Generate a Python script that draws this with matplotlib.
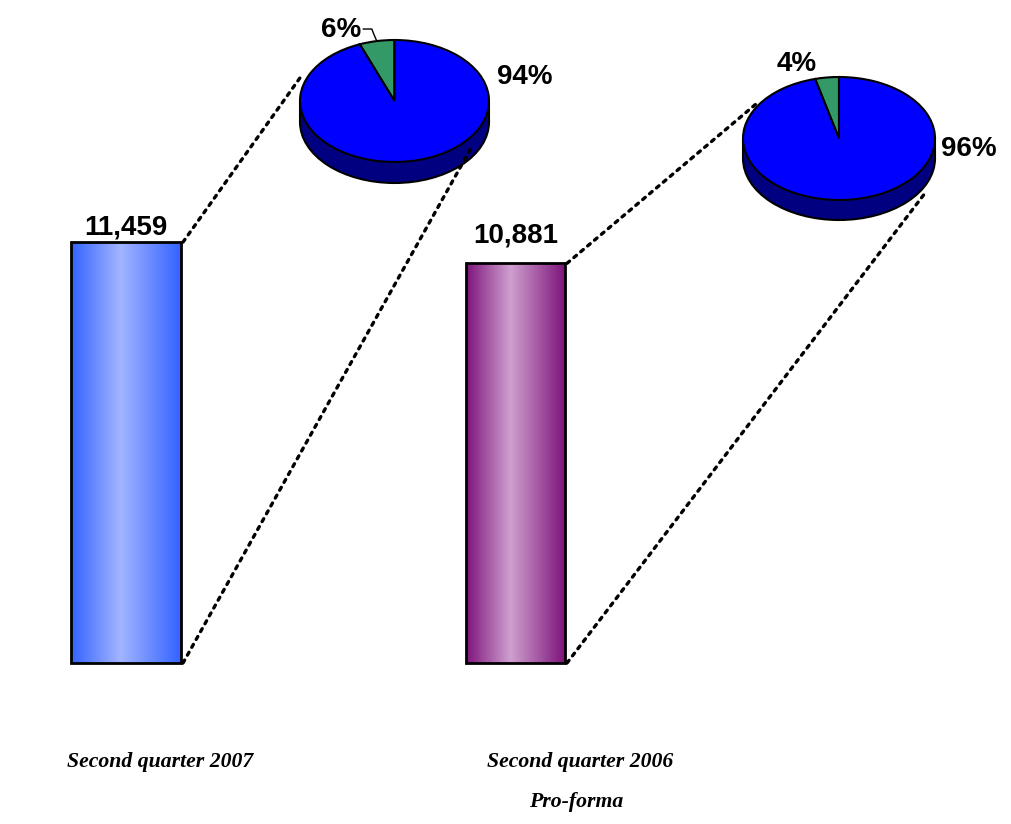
import numpy as np
import matplotlib
matplotlib.use("Agg")
import matplotlib.pyplot as plt
from matplotlib.colors import LinearSegmentedColormap
from matplotlib.patches import Ellipse, Rectangle, ConnectionPatch

# totals per period and the split shown in the pies
periods = ["Second quarter 2007", "Second quarter 2006\nPro-forma"]
totals = [11459, 10881]
total_labels = ["11,459", "10,881"]
pie_shares = [[6, 94], [4, 96]]
pie_labels = [["6%", "94%"], ["4%", "96%"]]

W, H = 1012, 824
fig = plt.figure(figsize=(W / 100, H / 100), dpi=100)
fig.patch.set_facecolor("white")

# bar axes: baseline sits 663 px from the top of the figure
ax = fig.add_axes([0, (H - 663) / H, 1, 663 / H])
ax.set_xlim(0, W)
ax.set_ylim(0, 18050)
ax.axis("off")

bar_x = [126, 515.5]
bar_w = [110, 99]
label_gap = [5.5, 15]  # points between bar top and value label baseline
grad_cols = [["#3363FF", "#A3B5FF", "#3363FF"],
             ["#7E147C", "#CFA0CF", "#7E147C"]]

bars = ax.bar(bar_x, totals, width=bar_w, color="none", edgecolor="black",
              linewidth=2, zorder=3, clip_on=False)
for b, cols, lab, gap in zip(bars, grad_cols, total_labels, label_gap):
    x0, w, h = b.get_x(), b.get_width(), b.get_height()
    cmap = LinearSegmentedColormap.from_list("g", [(0, cols[0]), (0.45, cols[1]), (1, cols[2])])
    grad = np.linspace(0, 1, 256).reshape(1, -1)
    im = ax.imshow(grad, cmap=cmap, aspect="auto", extent=[x0, x0 + w, 0, h],
                   zorder=2, interpolation="bicubic")
    im.set_clip_path(b)
    ax.annotate(lab, (x0 + w / 2, h), xytext=(0, gap), textcoords="offset points",
                ha="center", va="baseline", fontsize=20, fontweight="bold",
                family="Liberation Sans")

# pie geometry in pixels: centre x, centre y (from top), radii, side depth
pie_geo = [(394.5, 101, 94.5, 61, 21), (839, 138.5, 96, 61.5, 20)]
label_pos = [[(-0.56, 1.16), (1.38, 0.39)], [(-0.44, 1.21), (1.35, -0.17)]]
conn_pts = [[(-1.0, 0.38), (0.8, -0.8)], [(-0.85, 0.58), (0.9, -0.88)]]
pad = 0.06
for i, (cx, cy, rx, ry, dep) in enumerate(pie_geo):
    d = dep / ry
    left = cx - rx * (1 + pad)
    bottom = H - (cy + ry * (1 + pad) + dep)
    pax = fig.add_axes([left / W, bottom / H, 2 * rx * (1 + pad) / W,
                        (ry * (2 + 2 * pad) + dep) / H])
    pax.axis("off")
    # side of the disc
    pax.add_patch(Ellipse((0, -d), 2, 2, facecolor="#000080", edgecolor="black",
                          linewidth=1.5, zorder=1))
    pax.add_patch(Rectangle((-1, -d), 2, d, facecolor="#000080", edgecolor="none",
                            zorder=1.5))
    pax.plot([-1, -1], [-d, 0], color="black", lw=1.5, zorder=1.6)
    pax.plot([1, 1], [-d, 0], color="black", lw=1.5, zorder=1.6)
    # top face
    pax.pie(pie_shares[i], colors=["#339966", "#0000FF"], startangle=90,
            counterclock=True, radius=1, center=(0, 0),
            wedgeprops=dict(edgecolor="black", linewidth=1.5, zorder=3))
    pax.set_aspect("auto")
    pax.set_xlim(-1 - pad, 1 + pad)
    pax.set_ylim(-1 - pad - d, 1 + pad)
    for lab, (lx, ly) in zip(pie_labels[i], label_pos[i]):
        pax.text(lx, ly, lab, ha="center", va="center", fontsize=20,
                 fontweight="bold", family="Liberation Sans", clip_on=False)
    if i == 0:
        # leader line from the small slice label
        mid = np.deg2rad(90 + pie_shares[i][0] * 3.6 / 2)
        pax.plot([-0.33, -0.24, -0.22, np.cos(mid)], [1.18, 1.18, 1.1, np.sin(mid)],
                 color="black", lw=1, clip_on=False, zorder=4)
    # dotted connectors from the bar corners to the pie
    b = bars[i]
    xr = b.get_x() + b.get_width()
    for (yv, pt) in zip([b.get_height(), 0], conn_pts[i]):
        con = ConnectionPatch(xyA=(xr + 2, yv), coordsA=ax.transData,
                              xyB=pt, coordsB=pax.transData,
                              linestyle=(0, (1, 1.7)), linewidth=2.4, color="black")
        fig.add_artist(con)

# period labels under the bars
lab_style = dict(ha="center", va="center", fontsize=15.7, fontweight="bold",
                 style="italic", family="Liberation Serif")
fig.text(160 / W, 1 - 762 / H, "Second quarter 2007", **lab_style)
fig.text(580 / W, 1 - 762 / H, "Second quarter 2006", **lab_style)
fig.text(576 / W, 1 - 802 / H, "Pro-forma", **lab_style)

fig.savefig("out.png", dpi=100, facecolor="white")
